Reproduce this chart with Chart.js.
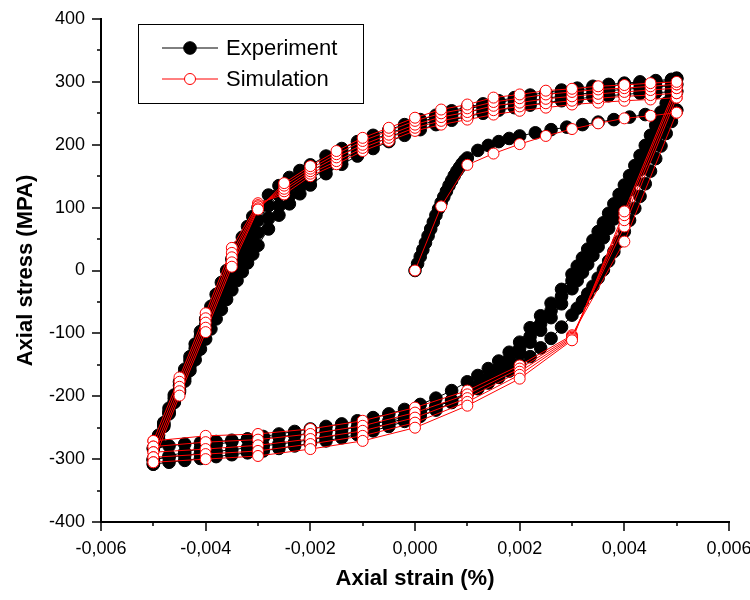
<!DOCTYPE html>
<html>
<head>
<meta charset="utf-8">
<title>Axial stress vs axial strain</title>
<script src="https://cdn.jsdelivr.net/npm/chart.js@4.4.1/dist/chart.umd.min.js"></script>
<style>
    html, body { margin: 0; padding: 0; background: #fff; }
</style>
</head>
<body>
<canvas id="chart" width="750" height="600"></canvas>
<script>
/* =========================
   Data
========================= */
const xTickLabels = ["-0,006", "-0,004", "-0,002", "0,000", "0,002", "0,004", "0,006"];
const yTickLabels = ["-400", "-300", "-200", "-100", "0", "100", "200", "300", "400"];

// experiment: first loading, then 4 cycles (down + up branches)
const expInitStrain = [0, 0.00005, 0.0001, 0.00015, 0.0002, 0.00025, 0.0003, 0.00035, 0.0004, 0.00045, 0.0005, 0.00055, 0.0006, 0.00065, 0.0007, 0.00075, 0.0008, 0.00085, 0.0009, 0.00095, 0.001, 0.0012, 0.0014, 0.0016, 0.0018, 0.002, 0.0023, 0.0026, 0.0029, 0.0032, 0.0035, 0.0038, 0.0041, 0.0044, 0.0047, 0.005];
const expInitStress = [0, 11, 22, 33, 44, 55, 66, 77, 88, 98, 108, 117, 126, 135, 143, 151, 158, 164, 170, 175, 179, 191, 199, 205, 210, 214, 219, 224, 228, 232, 236, 240, 244, 248, 252, 255];

const expDownStrain = [0.005, 0.0049, 0.0048, 0.0047, 0.0046, 0.0045, 0.0044, 0.0043, 0.0042, 0.0041, 0.004, 0.0039, 0.0038, 0.0037, 0.0036, 0.0035, 0.0034, 0.0033, 0.0032, 0.0031, 0.003, 0.0028, 0.0026, 0.0024, 0.0022, 0.002, 0.0018, 0.0016, 0.0014, 0.0012, 0.001, 0.0007, 0.0004, 0.0001, -0.0002, -0.0005, -0.0008, -0.0011, -0.0014, -0.0017, -0.002, -0.0023, -0.0026, -0.0029, -0.0032, -0.0035, -0.0038, -0.0041, -0.0044, -0.0047, -0.005];
const expDown1 = [255, 237, 218, 198, 178, 158, 138, 118, 99, 80, 62, 46, 30, 15, 1, -12, -25, -37, -49, -60, -71, -90, -108, -123, -137, -149, -160, -170, -179, -188, -196, -207, -217, -226, -233, -239, -244, -249, -253, -256, -259, -262, -264, -266, -268, -270, -272, -274, -276, -279, -283];
const expDown2 = [285, 266, 247, 229, 211, 194, 177, 160, 144, 128, 112, 97, 82, 67, 52, 38, 24, 10, -3, -16, -29, -53, -75, -95, -114, -132, -148, -162, -174, -185, -194, -206, -216, -226, -235, -243, -250, -256, -261, -265, -269, -273, -276, -279, -282, -285, -288, -291, -294, -297, -300];
const expDown3 = [296, 276, 257, 239, 221, 204, 187, 171, 155, 139, 124, 109, 94, 79, 65, 51, 37, 23, 10, -3, -16, -41, -64, -85, -105, -124, -141, -157, -171, -184, -195, -210, -222, -232, -240, -248, -255, -261, -266, -271, -275, -279, -283, -287, -290, -293, -296, -299, -302, -305, -308];
const expDown4 = [305, 285, 266, 248, 231, 215, 199, 183, 167, 151, 136, 121, 106, 91, 76, 62, 48, 34, 20, 7, -6, -30, -52, -72, -91, -114, -130, -144, -156, -167, -177, -191, -203, -213, -221, -228, -234, -239, -244, -248, -252, -256, -260, -264, -268, -272, -277, -283, -289, -295, -302];

const expUpStrain = [-0.005, -0.0049, -0.0048, -0.0047, -0.0046, -0.0045, -0.0044, -0.0043, -0.0042, -0.0041, -0.004, -0.0039, -0.0038, -0.0037, -0.0036, -0.0035, -0.0034, -0.0033, -0.0032, -0.0031, -0.003, -0.0028, -0.0026, -0.0024, -0.0022, -0.002, -0.0017, -0.0014, -0.0011, -0.0008, -0.0005, -0.0002, 0.0001, 0.0004, 0.0007, 0.001, 0.0013, 0.0016, 0.0019, 0.0022, 0.0025, 0.0028, 0.0031, 0.0034, 0.0037, 0.004, 0.0043, 0.0046, 0.0049, 0.005];
const expUp1 = [-283, -262, -244, -227, -210, -193, -176, -159, -142, -125, -109, -93, -77, -62, -46, -31, -16, -2, 12, 26, 40, 66, 88, 106, 122, 136, 154, 169, 182, 194, 205, 215, 224, 232, 239, 245, 250, 255, 259, 263, 267, 270, 273, 276, 278, 280, 282, 283, 284, 285];
const expUp2 = [-300, -270, -248, -228, -209, -190, -171, -152, -133, -114, -96, -78, -61, -44, -28, -12, 4, 19, 33, 47, 60, 84, 103, 119, 133, 145, 162, 176, 189, 201, 212, 222, 231, 239, 246, 252, 257, 262, 266, 270, 274, 277, 280, 283, 286, 288, 290, 292, 294, 296];
const expUp3 = [-308, -272, -246, -224, -203, -183, -163, -143, -124, -105, -86, -68, -50, -32, -15, 2, 19, 35, 51, 66, 80, 103, 120, 134, 147, 157, 172, 185, 197, 208, 218, 227, 236, 244, 251, 257, 262, 267, 272, 276, 280, 284, 287, 290, 293, 296, 298, 300, 302, 305];
const expUp4 = [-302, -268, -242, -219, -198, -177, -157, -137, -117, -97, -77, -57, -38, -19, 0, 18, 36, 53, 70, 86, 100, 120, 135, 148, 159, 168, 182, 194, 205, 215, 224, 232, 240, 247, 254, 260, 265, 270, 275, 279, 283, 287, 290, 293, 296, 298, 300, 302, 304, 306];

// simulation: first loading, then 5 cycles
const simInitStrain = [0, 0.0005, 0.001, 0.0015, 0.002, 0.0025, 0.003, 0.0035, 0.004, 0.0045, 0.005];
const simInitStress = [0, 102, 168, 186, 201, 214, 225, 234, 242, 246, 251];

const simDownStrain = [0.005, 0.004, 0.003, 0.002, 0.001, 0, -0.001, -0.002, -0.003, -0.004, -0.005];
const simDown1 = [251, 46, -103, -151, -191, -218, -239, -252, -260, -263, -271];
const simDown2 = [275, 70, -105, -156, -197, -226, -247, -260, -269, -273, -280];
const simDown3 = [282, 80, -107, -161, -203, -234, -255, -268, -278, -284, -289];
const simDown4 = [290, 88, -109, -166, -209, -242, -263, -276, -287, -292, -297];
const simDown5 = [296, 94, -111, -172, -215, -250, -271, -284, -295, -300, -305];

const simUpStrain = [-0.005, -0.0045, -0.004, -0.0035, -0.003, -0.0025, -0.002, -0.0015, -0.001, -0.0005, 0, 0.0005, 0.001, 0.0015, 0.002, 0.0025, 0.003, 0.0035, 0.004, 0.0045, 0.005];
const simUp1 = [-271, -170, -68, 36, 107, 121, 150, 169, 190, 206, 222, 232, 240, 248, 254, 259, 264, 267, 270, 272, 275];
const simUp2 = [-280, -177, -76, 28, 104, 126, 154, 174, 195, 211, 227, 238, 246, 255, 261, 266, 270, 274, 277, 279, 282];
const simUp3 = [-289, -185, -83, 21, 102, 130, 158, 180, 200, 216, 232, 244, 252, 262, 267, 273, 277, 281, 284, 287, 290];
const simUp4 = [-297, -192, -91, 13, 99, 135, 162, 185, 206, 222, 238, 250, 258, 268, 274, 280, 284, 288, 290, 293, 296];
const simUp5 = [-305, -199, -98, 6, 97, 139, 166, 190, 211, 227, 243, 256, 264, 275, 280, 286, 289, 293, 295, 298, 300];


/* =========================
   Build point lists
========================= */
function pts(xs, ys) {
    return xs.map((x, i) => ({ x: x, y: ys[i] }));
}

const expPoints = [].concat(
    pts(expInitStrain, expInitStress),
    pts(expDownStrain, expDown1), pts(expUpStrain, expUp1),
    pts(expDownStrain, expDown2), pts(expUpStrain, expUp2),
    pts(expDownStrain, expDown3), pts(expUpStrain, expUp3),
    pts(expDownStrain, expDown4), pts(expUpStrain, expUp4)
);

const simPoints = [].concat(
    pts(simInitStrain, simInitStress),
    pts(simDownStrain, simDown1), pts(simUpStrain, simUp1),
    pts(simDownStrain, simDown2), pts(simUpStrain, simUp2),
    pts(simDownStrain, simDown3), pts(simUpStrain, simUp3),
    pts(simDownStrain, simDown4), pts(simUpStrain, simUp4),
    pts(simDownStrain, simDown5), pts(simUpStrain, simUp5)
);


/* =========================
   Plugins: ticks + legend
========================= */
const axisTicks = {
    id: "axisTicks",
    afterDraw(chart) {
        const { ctx, chartArea, scales } = chart;
        ctx.save();
        ctx.strokeStyle = "#000";
        ctx.lineWidth = 1.5;
        ctx.beginPath();
        // major every 0.002, minor every 0.001
        for (let i = -6; i <= 6; i++) {
            const px = Math.round(scales.x.getPixelForValue(i / 1000));
            const len = (i % 2 === 0) ? 9 : 4;
            ctx.moveTo(px, chartArea.bottom);
            ctx.lineTo(px, chartArea.bottom + len);
        }
        // major every 100, minor every 50
        for (let i = -8; i <= 8; i++) {
            const py = Math.round(scales.y.getPixelForValue(i * 50));
            const len = (i % 2 === 0) ? 9 : 4;
            ctx.moveTo(chartArea.left, py);
            ctx.lineTo(chartArea.left - len, py);
        }
        ctx.stroke();
        ctx.restore();
    }
};

const lineLegend = {
    id: "lineLegend",
    afterDraw(chart) {
        const ctx = chart.ctx;
        const box = { x: 138.5, y: 24.5, w: 225, h: 79 };
        ctx.save();
        ctx.fillStyle = "#fff";
        ctx.fillRect(box.x, box.y, box.w, box.h);
        ctx.strokeStyle = "#000";
        ctx.lineWidth = 1;
        ctx.strokeRect(box.x, box.y, box.w, box.h);

        chart.data.datasets.forEach((ds, i) => {
            const y = 48 + i * 31;
            ctx.strokeStyle = ds.borderColor;
            ctx.lineWidth = 1;
            ctx.beginPath();
            ctx.moveTo(162, y);
            ctx.lineTo(218, y);
            ctx.stroke();

            ctx.beginPath();
            ctx.arc(190, y, ds.pointRadius, 0, Math.PI * 2);
            ctx.fillStyle = ds.pointBackgroundColor;
            ctx.fill();
            ctx.strokeStyle = ds.pointBorderColor;
            ctx.stroke();

            ctx.fillStyle = "#000";
            ctx.font = "22px 'Liberation Sans', Arial, sans-serif";
            ctx.textAlign = "left";
            ctx.textBaseline = "middle";
            ctx.fillText(ds.label, 226, y + 1);
        });
        ctx.restore();
    }
};


/* =========================
   Chart
========================= */
Chart.defaults.font.family = "'Liberation Sans', Arial, sans-serif";
Chart.defaults.color = "#000";

new Chart(document.getElementById("chart"), {
    type: "scatter",
    data: {
        datasets: [
            {
                label: "Experiment",
                data: expPoints,
                showLine: true,
                borderColor: "#000",
                borderWidth: 1,
                pointRadius: 6.3,
                pointBackgroundColor: "#000",
                pointBorderColor: "#000",
                pointBorderWidth: 1,
                order: 1
            },
            {
                label: "Simulation",
                data: simPoints,
                showLine: true,
                borderColor: "#ff0000",
                borderWidth: 1,
                pointRadius: 5.5,
                pointBackgroundColor: "#fff",
                pointBorderColor: "#ff0000",
                pointBorderWidth: 1,
                order: 0
            }
        ]
    },
    options: {
        responsive: false,
        animation: false,
        events: [],
        layout: { padding: { top: 19, right: 21, bottom: 0, left: 0 } },
        plugins: {
            legend: { display: false },
            tooltip: { enabled: false }
        },
        scales: {
            x: {
                type: "linear",
                min: -0.006,
                max: 0.006,
                grid: { display: false, drawTicks: false },
                border: { display: true, color: "#000", width: 2 },
                ticks: {
                    stepSize: 0.002,
                    autoSkip: false,
                    maxRotation: 0,
                    padding: 16,
                    font: { size: 18 },
                    callback: (v, i) => xTickLabels[i]
                },
                title: {
                    display: true,
                    text: "Axial strain (%)",
                    font: { size: 22, weight: "bold" },
                    padding: { top: 0, bottom: 8 }
                },
                afterFit: (s) => {
                    s.height = 78;
                    s.paddingLeft = 0;
                    s.paddingRight = 0;
                }
            },
            y: {
                type: "linear",
                min: -400,
                max: 400,
                grid: { display: false, drawTicks: false },
                border: { display: true, color: "#000", width: 2 },
                ticks: {
                    stepSize: 100,
                    padding: 16,
                    font: { size: 18 },
                    callback: (v, i) => yTickLabels[i]
                },
                title: {
                    display: true,
                    text: "Axial stress (MPA)",
                    font: { size: 22, weight: "bold" },
                    padding: { top: 13, bottom: 0 }
                },
                afterFit: (s) => {
                    s.width = 101;
                    s.paddingTop = 0;
                    s.paddingBottom = 0;
                }
            }
        }
    },
    plugins: [axisTicks, lineLegend]
});
</script>
</body>
</html>
